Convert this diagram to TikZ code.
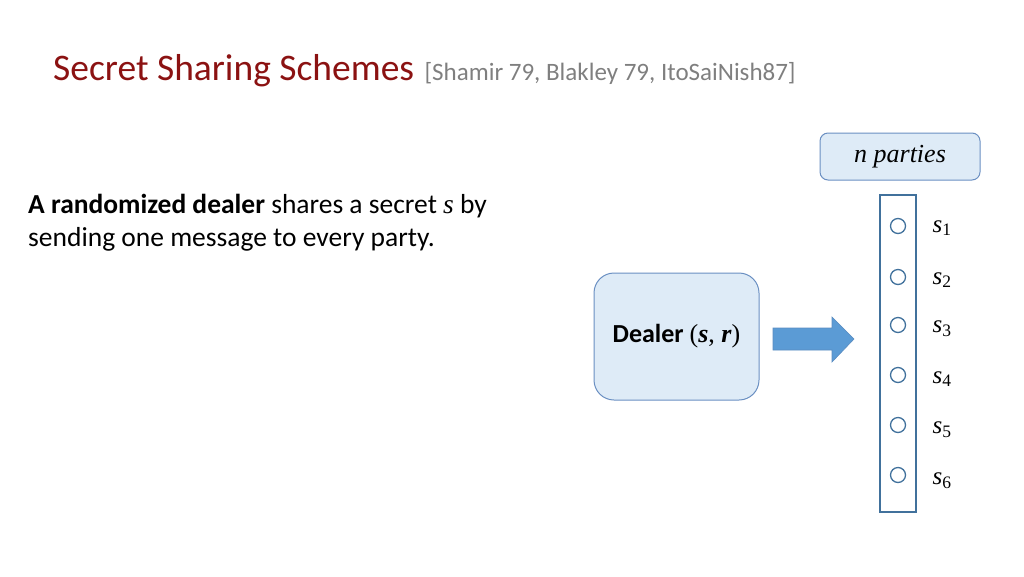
\documentclass[tikz,border=0pt]{standalone}
\usepackage{amsmath}
\usepackage{fontspec}
\setmainfont{Carlito}
\newfontfamily\mathlike{Liberation Serif}
\usepackage{tikz}
\usetikzlibrary{positioning}
\definecolor{titlered}{HTML}{8B1212}
\definecolor{citegray}{HTML}{7F7F7F}
\definecolor{boxfill}{HTML}{DEEBF7}
\definecolor{boxline}{HTML}{6A8FC2}
\definecolor{arrowfill}{HTML}{5B9BD5}
\definecolor{arrowline}{HTML}{5A8CC0}
\definecolor{colline}{HTML}{41719C}
\newcommand{\mvar}[1]{{\mathlike\itshape #1}}

\begin{document}
\begin{tikzpicture}[
    x=1pt, y=-1pt,
    roundbox/.style={draw=boxline, fill=boxfill, line width=1pt},
    party/.style={circle, draw=colline, line width=1.3pt, minimum size=15pt, inner sep=0pt},
    share/.style={font=\fontsize{25}{25}\selectfont\mathlike, anchor=west},
  ]
  \useasboundingbox (0,0) rectangle (1024,576);
  % title
  \node[anchor=base west, inner sep=0pt, text=titlered,
        font=\fontsize{37.5}{37.5}\selectfont] (title) at (53,80) {Secret Sharing Schemes};
  \node[inner sep=0pt, text=citegray, font=\fontsize{25}{25}\selectfont,
        right=10pt of title.base east, anchor=base west]
        (cite) {[Shamir 79, Blakley 79, ItoSaiNish87]};
  % text
  \node[anchor=north west, inner sep=0pt, align=left,
        font=\fontsize{27.5}{33}\selectfont] (intro) at (28,194)
        {\textbf{A randomized dealer} shares a secret \mvar{s} by\\
         sending one message to every party.};
  % dealer
  \node[roundbox, rounded corners=20pt, minimum width=165pt, minimum height=127pt,
        font=\fontsize{26}{26}\selectfont] (dealer) at (676.5,336.5)
        {\textbf{Dealer} {\mathlike(\textbf{\itshape s}, \textbf{\itshape r})}};
  % arrow
  \coordinate (a0) at (773,328);
  \draw[draw=arrowline, fill=arrowfill, line width=0.6pt]
    (a0) -- ++(59,0) -- ++(0,-11) -- ++(22,22) -- ++(-22,23) -- ++(0,-12)
    -- ++(-59,0) -- cycle;
  % parties
  \node[roundbox, rounded corners=8pt, minimum width=160pt, minimum height=47pt,
        font=\fontsize{26}{26}\selectfont] (nparties) at (900,156.5) {\mvar{n parties}};
  \node[draw=colline, line width=1.5pt, minimum width=36pt, minimum height=317pt,
        inner sep=0pt] (column) at (898,353.5) {};
  \foreach \i/\y/\ly in {1/226/228,2/277/280,3/325/329,4/375/379,5/425/430,6/475/481} {
    \node[party] (p\i) at (898,\y) {};
    \node[share] (s\i) at (929,\ly) {\itshape s\textsubscript{\upshape\i}};
  }
\end{tikzpicture}
\end{document}
